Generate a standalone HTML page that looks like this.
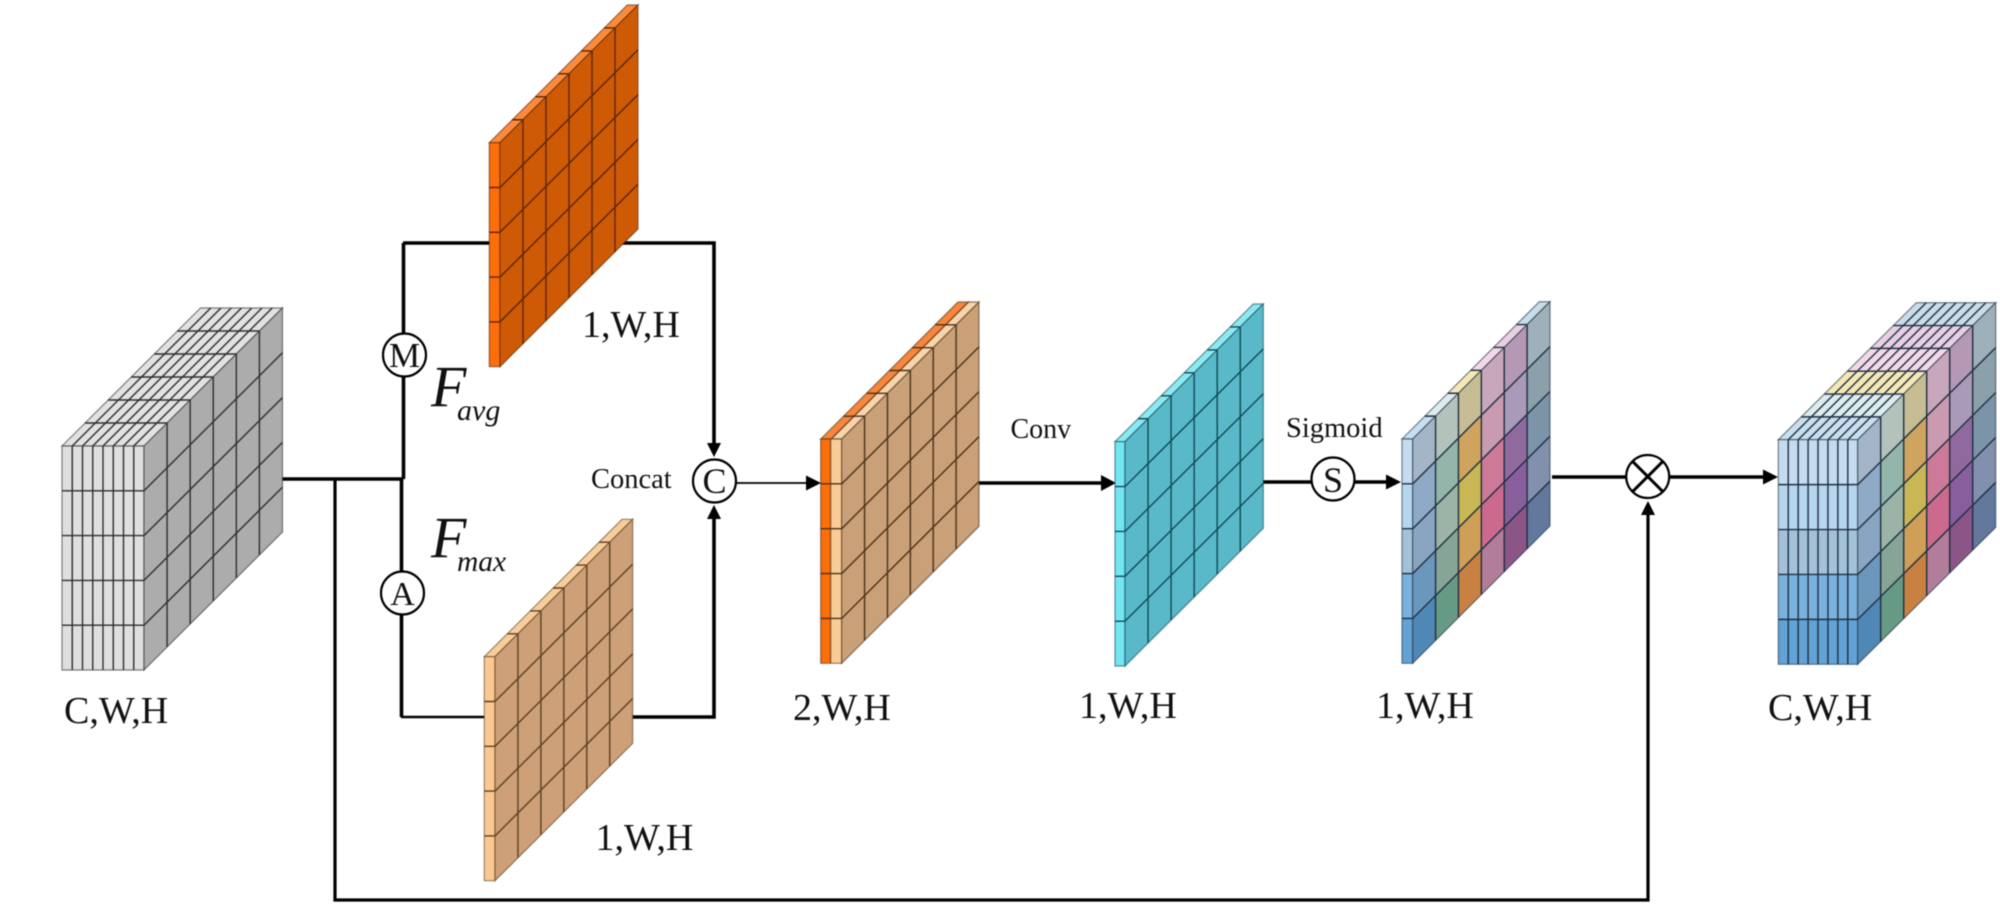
<!DOCTYPE html>
<html>
<head>
<meta charset="utf-8">
<title>Spatial attention diagram</title>
<style>
html,body{margin:0;padding:0;background:#fff;width:2000px;height:904px;overflow:hidden}
svg{display:block;filter:blur(0.4px)}
text{font-family:"Liberation Serif",serif;fill:#111}
.g path{fill:none;vector-effect:non-scaling-stroke;stroke-width:1.4}
.g path.o{stroke-opacity:.6;stroke-width:1.2}
.l{fill:none;stroke:#000;stroke-width:3.6}
.c{fill:#fff;stroke:#000;stroke-width:2.2}
</style>
</head>
<body>
<svg xmlns="http://www.w3.org/2000/svg" width="2000" height="904" viewBox="0 0 2000 904">
<defs>
<g id="s65" class="g"><path d="M1 0V5M2 0V5M3 0V5M4 0V5M5 0V5M0 1H6M0 2H6M0 3H6M0 4H6"/><path class="o" d="M0 0H6V5H0Z"/></g>
<g id="f15" class="g"><path d="M0 1H1M0 2H1M0 3H1M0 4H1"/><path class="o" d="M0 0H1V5H0Z"/></g>
<g id="f85" class="g"><path d="M1 0V5M2 0V5M3 0V5M4 0V5M5 0V5M6 0V5M7 0V5M0 1H8M0 2H8M0 3H8M0 4H8"/><path class="o" d="M0 0H8V5H0Z"/></g>
<g id="t1" class="g"><path d="M1 0V1M2 0V1M3 0V1M4 0V1M5 0V1"/><path class="o" d="M0 0H6V1H0Z"/></g>
<g id="t8" class="g"><path d="M1 0V8M2 0V8M3 0V8M4 0V8M5 0V8M0 1H6M0 2H6M0 3H6M0 4H6M0 5H6M0 6H6M0 7H6"/><path class="o" d="M0 0H6V8H0Z"/></g>
<g id="colside">
<rect x="0" y="0" width="1.01" height="1.01" fill="#a3b5c6"/><rect x="0" y="1" width="1.01" height="1.01" fill="#8eaac6"/><rect x="0" y="2" width="1.01" height="1.01" fill="#8aa5c2"/><rect x="0" y="3" width="1.01" height="1.01" fill="#6c97bd"/><rect x="0" y="4" width="1.01" height="1" fill="#4f88b7"/>
<rect x="1" y="0" width="1.01" height="1.01" fill="#b4c2bc"/><rect x="1" y="1" width="1.01" height="1.01" fill="#93b5aa"/><rect x="1" y="2" width="1.01" height="1.01" fill="#9bb4a7"/><rect x="1" y="3" width="1.01" height="1.01" fill="#87a596"/><rect x="1" y="4" width="1.01" height="1" fill="#679a85"/>
<rect x="2" y="0" width="1.01" height="1.01" fill="#c6bd94"/><rect x="2" y="1" width="1.01" height="1.01" fill="#cfa45f"/><rect x="2" y="2" width="1.01" height="1.01" fill="#c9b654"/><rect x="2" y="3" width="1.01" height="1.01" fill="#cf9f57"/><rect x="2" y="4" width="1.01" height="1" fill="#c98142"/>
<rect x="3" y="0" width="1.01" height="1.01" fill="#c8a6bc"/><rect x="3" y="1" width="1.01" height="1.01" fill="#c99ab0"/><rect x="3" y="2" width="1.01" height="1.01" fill="#cc7a97"/><rect x="3" y="3" width="1.01" height="1.01" fill="#cb6a8c"/><rect x="3" y="4" width="1.01" height="1" fill="#b17d9b"/>
<rect x="4" y="0" width="1.01" height="1.01" fill="#b598b3"/><rect x="4" y="1" width="1.01" height="1.01" fill="#a89ab8"/><rect x="4" y="2" width="1.01" height="1.01" fill="#906a9f"/><rect x="4" y="3" width="1.01" height="1.01" fill="#885f9c"/><rect x="4" y="4" width="1.01" height="1" fill="#8b5588"/>
<rect x="5" y="0" width="1" height="1.01" fill="#9eb0b9"/><rect x="5" y="1" width="1" height="1.01" fill="#8ba0ab"/><rect x="5" y="2" width="1" height="1.01" fill="#7b94a8"/><rect x="5" y="3" width="1" height="1.01" fill="#8390ad"/><rect x="5" y="4" width="1" height="1" fill="#62789d"/>
</g>
</defs>

<rect width="2000" height="904" fill="#fff"/>

<!-- connectors -->
<path class="l" d="M282 479H403.5"/>
<path class="l" style="stroke-width:3.2" d="M335 479V900H1648V514"/>
<path class="l" d="M403.5 243V479"/>
<path class="l" d="M401.5 479V717"/>
<path class="l" d="M403 243H714V445"/>
<path class="l" style="stroke-width:2.4" d="M401 717H490"/>
<path class="l" d="M630 717H714V518"/>
<path class="l" style="stroke-width:1.8" d="M736 483H808"/>
<path class="l" d="M979 483H1102"/>
<path class="l" d="M1263 482H1312"/>
<path class="l" d="M1355 482H1388"/>
<path class="l" d="M1552 477H1626"/>
<path class="l" d="M1669 477H1766"/>
<!-- arrowheads -->
<path d="M714 457L707 443H721Z"/>
<path d="M714 505L707 519H721Z"/>
<path d="M1648 501L1641 515H1655Z"/>
<path d="M821 483L806 475.5V490.5Z"/>
<path d="M1116 483L1101 475V491Z"/>
<path d="M1401 482L1386 474.5V489.5Z"/>
<path d="M1778 477L1763 469.5V484.5Z"/>

<!-- gray cube -->
<g stroke="#2e2e2e">
<g transform="matrix(23.08,-23,10.25,0,62,446)"><rect width="6" height="8" fill="#e2e2e2" stroke="none"/><use href="#t8"/></g>
<g transform="matrix(10.25,0,0,44.8,62,446)"><rect width="8" height="5" fill="#dfdfdf" stroke="none"/><use href="#f85"/></g>
<g transform="matrix(23.08,-23,0,44.8,144,446)"><rect width="6" height="5" fill="#acacac" stroke="none"/><use href="#s65"/></g>
</g>

<!-- orange plate -->
<g stroke="#5a2600">
<g transform="matrix(23,-22.95,10.7,0,489.3,142.7)"><rect width="6" height="1" fill="#fb8a3c" stroke="none"/><use href="#t1"/></g>
<g transform="matrix(10.7,0,0,44.8,489.3,142.7)"><rect width="1" height="5" fill="#fb6e0a" stroke="none"/><use href="#f15"/></g>
<g transform="matrix(23,-22.95,0,44.8,500,142.7)"><rect width="6" height="5" fill="#cf5a06" stroke="none"/><use href="#s65"/></g>
</g>

<!-- beige plate -->
<g stroke="#5a4022">
<g transform="matrix(22.95,-22.9,10.7,0,484.3,656.7)"><rect width="6" height="1" fill="#f8cd9c" stroke="none"/><use href="#t1"/></g>
<g transform="matrix(10.7,0,0,44.8,484.3,656.7)"><rect width="1" height="5" fill="#fbc892" stroke="none"/><use href="#f15"/></g>
<g transform="matrix(22.95,-22.9,0,44.8,495,656.7)"><rect width="6" height="5" fill="#cda077" stroke="none"/><use href="#s65"/></g>
</g>

<!-- two-layer plate -->
<g stroke="#4a3218">
<g transform="matrix(22.88,-22.83,10.5,0,820.7,439)"><rect width="6" height="1" fill="#f9853a" stroke="none"/><rect y="1" width="6" height="1" fill="#f9d4aa" stroke="none"/><use href="#t1"/><g transform="translate(0,1)"><use href="#t1"/></g></g>
<g transform="matrix(10,0,0,44.86,820.7,439)"><rect width="1" height="5" fill="#fb6e0a" stroke="none"/><use href="#f15"/></g>
<g transform="matrix(11,0,0,44.86,830.7,439)"><rect width="1" height="5" fill="#f9cb97" stroke="none"/><use href="#f15"/></g>
<g transform="matrix(22.88,-22.83,0,44.86,841.7,439)"><rect width="6" height="5" fill="#c9a077" stroke="none"/><use href="#s65"/></g>
</g>

<!-- cyan plate -->
<g stroke="#0e4a55">
<g transform="matrix(23.05,-22.95,10,0,1115,441.7)"><rect width="6" height="1" fill="#8ce9f3" stroke="none"/><use href="#t1"/></g>
<g transform="matrix(10,0,0,44.86,1115,441.7)"><rect width="1" height="5" fill="#74e6f2" stroke="none"/><use href="#f15"/></g>
<g transform="matrix(23.05,-22.95,0,44.86,1125,441.7)"><rect width="6" height="5" fill="#5ab9c9" stroke="none"/><use href="#s65"/></g>
</g>

<!-- coloured plate -->
<g stroke="#1f2f40">
<g transform="matrix(22.88,-22.88,10.7,0,1402,439)"><rect x="0" width="1.01" height="1" fill="#c8dff0" stroke="none"/><rect x="1" width="1.01" height="1" fill="#dcecef" stroke="none"/><rect x="2" width="1.01" height="1" fill="#f5e8b4" stroke="none"/><rect x="3" width="1.01" height="1" fill="#f3d8e8" stroke="none"/><rect x="4" width="1.01" height="1" fill="#e8cfe3" stroke="none"/><rect x="5" width="1" height="1" fill="#c8dde8" stroke="none"/><use href="#t1"/></g>
<g transform="matrix(10.7,0,0,44.86,1402,439)"><rect y="0" width="1" height="1.01" fill="#c5dcf0" stroke="none"/><rect y="1" width="1" height="1.01" fill="#b6d5ef" stroke="none"/><rect y="2" width="1" height="1.01" fill="#a3c2da" stroke="none"/><rect y="3" width="1" height="1.01" fill="#79b2de" stroke="none"/><rect y="4" width="1" height="1" fill="#62a2d4" stroke="none"/><use href="#f15"/></g>
<g transform="matrix(22.88,-22.88,0,44.86,1412.7,439)"><use href="#colside" stroke="none"/><use href="#s65"/></g>
</g>

<!-- coloured cube -->
<g stroke="#1f2f40">
<g transform="matrix(23,-22.83,9.93,0,1778.3,439.7)"><rect x="0" width="1.01" height="8" fill="#c8dff0" stroke="none"/><rect x="1" width="1.01" height="8" fill="#dcecef" stroke="none"/><rect x="2" width="1.01" height="8" fill="#f5e8b4" stroke="none"/><rect x="3" width="1.01" height="8" fill="#f3d8e8" stroke="none"/><rect x="4" width="1.01" height="8" fill="#e8cfe3" stroke="none"/><rect x="5" width="1" height="8" fill="#c8dde8" stroke="none"/><use href="#t8"/></g>
<g transform="matrix(9.93,0,0,44.92,1778.3,439.7)"><rect y="0" width="8" height="1.01" fill="#c5dcf0" stroke="none"/><rect y="1" width="8" height="1.01" fill="#b6d5ef" stroke="none"/><rect y="2" width="8" height="1.01" fill="#a3c2da" stroke="none"/><rect y="3" width="8" height="1.01" fill="#79b2de" stroke="none"/><rect y="4" width="8" height="1" fill="#62a2d4" stroke="none"/><use href="#f85"/></g>
<g transform="matrix(23,-22.83,0,44.92,1857.7,439.7)"><use href="#colside" stroke="none"/><use href="#s65"/></g>
</g>

<!-- circles -->
<circle class="c" cx="404.5" cy="355" r="21.5"/>
<circle class="c" cx="402.5" cy="593" r="21.5"/>
<circle class="c" cx="714.5" cy="481" r="21.5"/>
<circle class="c" cx="1333" cy="479" r="21.5"/>
<circle class="c" cx="1647.7" cy="476.5" r="21.5"/>
<path d="M1632.5 461.3L1662.9 491.7M1662.9 461.3L1632.5 491.7" stroke="#000" stroke-width="3" fill="none"/>

<text x="404.5" y="367" font-size="35" text-anchor="middle">M</text>
<text x="402.5" y="605" font-size="34" text-anchor="middle">A</text>
<text x="714.5" y="493" font-size="36" text-anchor="middle">C</text>
<text x="1333" y="492" font-size="36" text-anchor="middle">S</text>

<!-- labels -->
<text x="64" y="723" font-size="38">C,W,H</text>
<text x="582" y="337" font-size="38">1,W,H</text>
<text x="595.5" y="850" font-size="38">1,W,H</text>
<text x="793" y="720" font-size="38">2,W,H</text>
<text x="1079" y="718" font-size="38">1,W,H</text>
<text x="1376" y="718" font-size="38">1,W,H</text>
<text x="1768" y="720" font-size="38">C,W,H</text>

<text x="591" y="488" font-size="28.5">Concat</text>
<text x="1010.5" y="438" font-size="28">Conv</text>
<text x="1286" y="437" font-size="28.5">Sigmoid</text>

<text x="431" y="406" font-size="58" font-style="italic">F</text>
<text x="457" y="420" font-size="30" font-style="italic">avg</text>
<text x="431" y="557" font-size="58" font-style="italic">F</text>
<text x="457" y="571" font-size="29.5" font-style="italic">max</text>
</svg>
</body>
</html>
